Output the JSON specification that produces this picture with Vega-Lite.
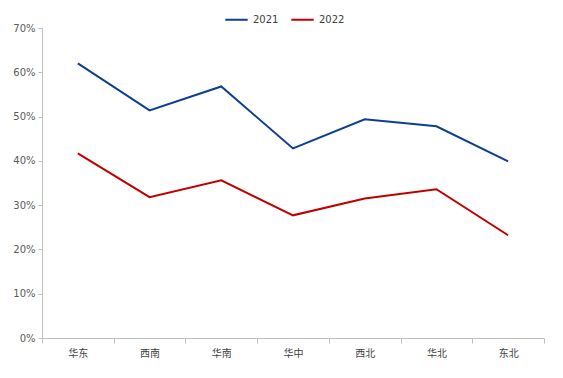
{
  "$schema": "https://vega.github.io/schema/vega-lite/v6.json",
  "width": 502,
  "height": 310,
  "autosize": {"type": "none"},
  "padding": {"left": 42, "top": 28, "right": 19, "bottom": 40},
  "background": "white",
  "config": {"view": {"stroke": null}},
  "data": {
    "values": [
      {"region": "华东", "year": "2021", "value": 0.620},
      {"region": "西南", "year": "2021", "value": 0.514},
      {"region": "华南", "year": "2021", "value": 0.568},
      {"region": "华中", "year": "2021", "value": 0.428},
      {"region": "西北", "year": "2021", "value": 0.494},
      {"region": "华北", "year": "2021", "value": 0.478},
      {"region": "东北", "year": "2021", "value": 0.399},
      {"region": "华东", "year": "2022", "value": 0.417},
      {"region": "西南", "year": "2022", "value": 0.318},
      {"region": "华南", "year": "2022", "value": 0.356},
      {"region": "华中", "year": "2022", "value": 0.277},
      {"region": "西北", "year": "2022", "value": 0.315},
      {"region": "华北", "year": "2022", "value": 0.336},
      {"region": "东北", "year": "2022", "value": 0.232}
    ]
  },
  "mark": {"type": "line", "strokeWidth": 2},
  "encoding": {
    "x": {
      "field": "region",
      "type": "nominal",
      "sort": ["华东", "西南", "华南", "华中", "西北", "华北", "东北"],
      "bandPosition": 0.5,
      "scale": {"type": "band", "paddingInner": 0, "paddingOuter": 0},
      "axis": {
        "title": null,
        "tickBand": "extent",
        "labelAngle": 0,
        "labelFont": "Noto Sans CJK SC",
        "labelFontSize": 10,
        "labelColor": "#404040",
        "labelPadding": 5,
        "domainColor": "#BFBFBF",
        "tickColor": "#BFBFBF",
        "tickSize": 5,
        "grid": false
      }
    },
    "y": {
      "field": "value",
      "type": "quantitative",
      "scale": {"domain": [0, 0.7], "nice": false},
      "axis": {
        "title": null,
        "format": ".0%",
        "values": [0, 0.1, 0.2, 0.3, 0.4, 0.5, 0.6, 0.7],
        "grid": false,
        "labelFont": "DejaVu Sans",
        "labelFontSize": 10,
        "labelColor": "#595959",
        "domainColor": "#BFBFBF",
        "tickColor": "#BFBFBF",
        "tickSize": 4,
        "labelPadding": 3
      }
    },
    "color": {
      "field": "year",
      "type": "nominal",
      "scale": {"domain": ["2021", "2022"], "range": ["#0E3F8E", "#C00000"]},
      "legend": {
        "title": null,
        "orient": "none",
        "direction": "horizontal",
        "legendX": 182,
        "legendY": -21,
        "symbolType": "stroke",
        "symbolSize": 500,
        "symbolStrokeWidth": 2,
        "labelFont": "DejaVu Sans",
        "labelFontSize": 10,
        "labelColor": "#404040",
        "columnPadding": 8,
        "labelOffset": 4
      }
    }
  }
}
